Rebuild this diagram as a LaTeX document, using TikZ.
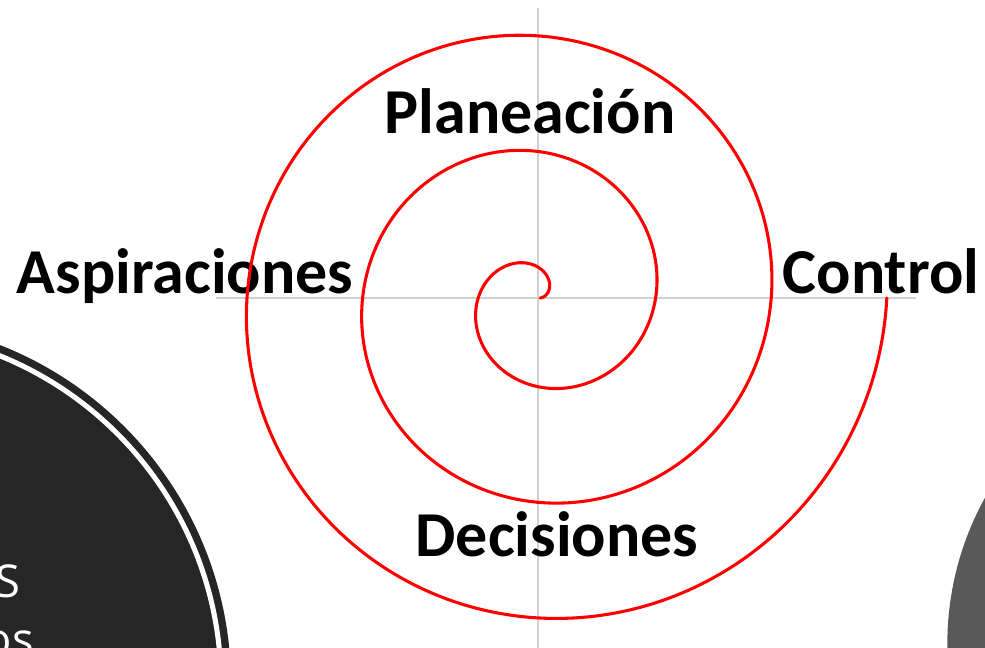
\documentclass[tikz,border=0pt]{standalone}
\usepackage{fontspec}
\setmainfont{Carlito}
\newfontfamily\lightfont{Open Sans}
\definecolor{darkfill}{HTML}{262626}
\definecolor{grayfill}{HTML}{595959}
\definecolor{axisgray}{HTML}{D0D0D0}
\definecolor{spiralred}{HTML}{FF0000}
\tikzset{
  label/.style={font=\fontsize{48}{52}\selectfont\bfseries, text=black, inner sep=0pt, anchor=base},
  circtext/.style={font=\lightfont\fontsize{34}{40}\selectfont, text=white, inner sep=0pt, anchor=base east},
  axis/.style={draw=axisgray, line width=1.6pt},
  spiral/.style={draw=spiralred, line width=2.3pt, line cap=round, line join=round}
}
\begin{document}
\begin{tikzpicture}[x=0.75pt,y=-0.75pt]
\useasboundingbox (0,0) rectangle (985,648);
\clip (0,0) rectangle (985,648);
% background circles
\fill[darkfill] (-133,684) circle[radius=273pt];
\draw[white, line width=3.8pt] (-133,684) circle[radius=265.5pt];
\fill[grayfill] (1250,644) circle[radius=227pt];
\node[circtext] (t1) at (21,597) {S};
\node[circtext] (t2) at (34,655) {os};
% axes
\coordinate (vtop) at (538,8);
\coordinate (vbot) at (538,648);
\coordinate (hl) at (216,298);
\coordinate (hr) at (916,298);
\draw[axis] (vtop) -- (vbot);
\draw[axis] (hl) -- (hr);
% labels
\node[label] (plan) at (530,134) {Planeación};
\node[label] (asp) at (185,294) {Aspiraciones};
\node[label] (ctrl) at (881,294) {Control};
\node[label] (dec) at (557,556) {Decisiones};
% spiral
\draw[spiral] plot[domain=0:1080, samples=500, smooth]
  ({538+(2+0.32114*\x)*cos(\x)}, {298-(2+0.32114*\x)*sin(\x)});
\end{tikzpicture}
\end{document}
